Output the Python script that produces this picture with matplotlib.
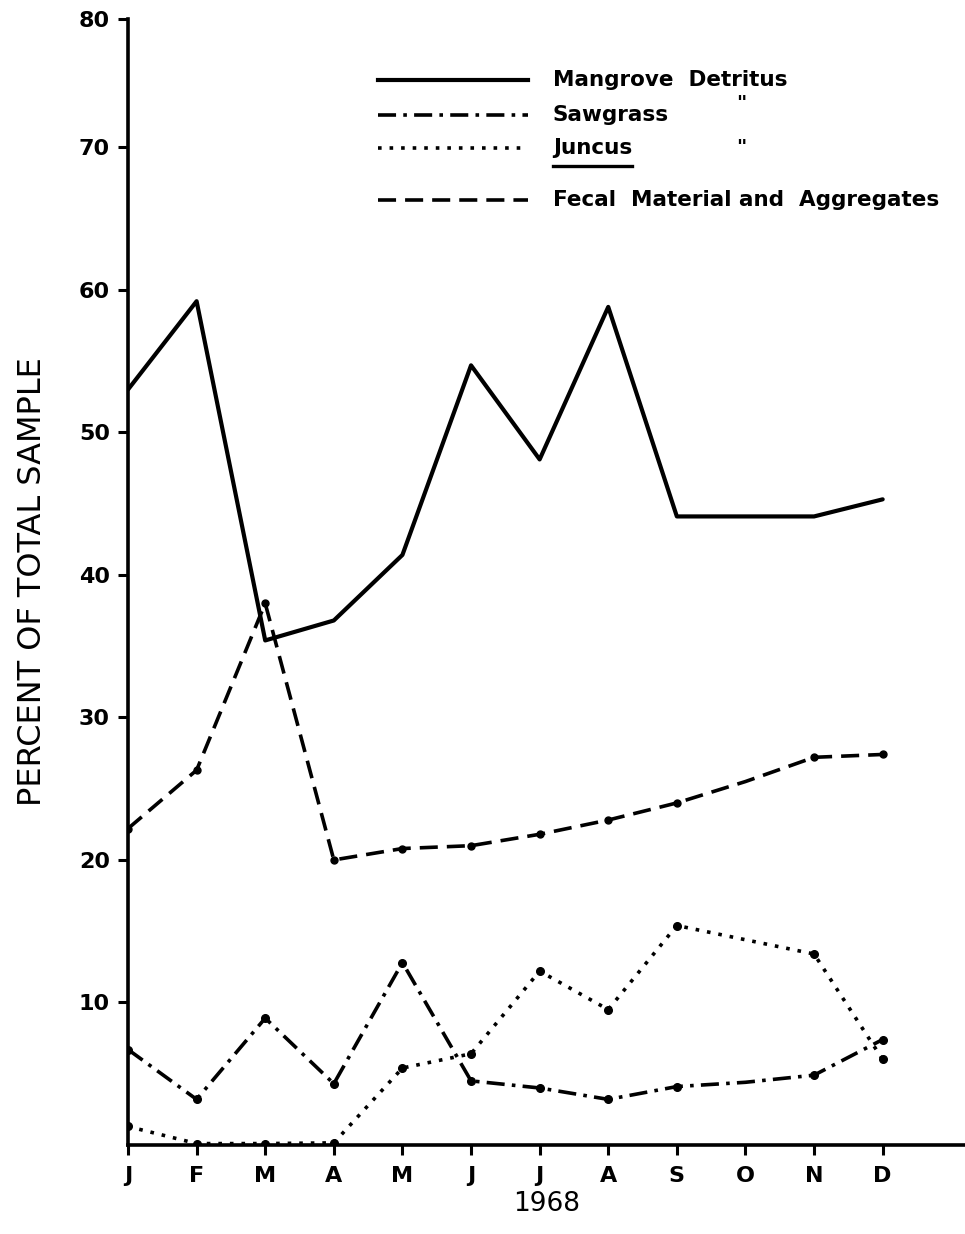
import numpy as np
import matplotlib.pyplot as plt
from matplotlib.lines import Line2D

# monthly composition of samples, 1968 (percent of total sample)
months = ['J', 'F', 'M', 'A', 'M', 'J', 'J', 'A', 'S', 'O', 'N', 'D']
mangrove = [53.0, 59.2, 35.4, 36.8, 41.4, 54.7, 48.1, 58.8, 44.1, 44.1, 44.1, 45.3]
sawgrass = [6.7, 3.2, 8.9, 4.3, 12.8, 4.5, 4.0, 3.2, 4.1, 4.4, 4.9, 7.4]
juncus = [1.3, 0.1, 0.1, 0.15, 5.4, 6.4, 12.2, 9.5, 15.4, 14.4, 13.4, 6.0]
fecal = [22.2, 26.3, 38.0, 20.0, 20.8, 21.0, 21.8, 22.8, 24.0, 25.5, 27.2, 27.4]
ytick_vals = [10, 20, 30, 40, 50, 60, 70, 79]
ytick_labels = ['10', '20', '30', '40', '50', '60', '70', '80']

x = np.arange(len(months))
W, H = 965, 1234
marked = [0, 1, 2, 3, 4, 5, 6, 7, 8, 10, 11]

fig = plt.figure(figsize=(W / 100, H / 100), dpi=100)
ax = fig.add_axes([128 / W, 89 / H, 837 / W, 1126 / H])

lw = 2.6
ax.plot(x, mangrove, color='black', lw=3.0, solid_capstyle='round')
ax.plot(x, sawgrass, color='black', lw=lw, dashes=(5, 2, 1, 2),
        marker='o', ms=5.5, markevery=marked)
ax.plot(x, juncus, color='black', lw=lw, dashes=(1, 2.2),
        marker='o', ms=5.5, markevery=marked)
ax.plot(x, fecal, color='black', lw=lw, dashes=(5, 2.5),
        marker='o', ms=5, markevery=marked)

ax.set_xlim(0, 12.2)
ax.set_ylim(0, 79)
for s in ['top', 'right']:
    ax.spines[s].set_visible(False)
for s in ['left', 'bottom']:
    ax.spines[s].set_linewidth(2.6)

ax.set_xticks(x)
ax.set_xticklabels(months, fontsize=16, fontweight='bold')
ax.set_yticks(ytick_vals)
ax.set_yticklabels(ytick_labels, fontsize=16, fontweight='bold')
ax.tick_params(axis='both', direction='out', length=7, width=2.2, pad=6)
ax.tick_params(axis='x', pad=8)

ax.set_ylabel('PERCENT OF TOTAL SAMPLE', fontsize=23, labelpad=22)
ax.set_xlabel('1968', fontsize=19, labelpad=4)

# hand-drawn style key in the upper right
key = [
    ('Mangrove  Detritus', dict(lw=3.0), 80),
    ('Sawgrass', dict(lw=lw, dashes=(5, 2, 1, 2)), 115),
    ('Juncus', dict(lw=lw, dashes=(1, 2.2)), 148),
    ('Fecal  Material and  Aggregates', dict(lw=lw, dashes=(5, 2.5)), 200),
]
for label, style, ypx in key:
    yf = 1 - ypx / H
    fig.add_artist(Line2D([378 / W, 528 / W], [yf, yf], color='black',
                          transform=fig.transFigure, **style))
    fig.text(553 / W, yf, label, fontsize=15.5, fontweight='bold',
             va='center', ha='left')
fig.add_artist(Line2D([553 / W, 632 / W], [1 - 166 / H, 1 - 166 / H],
                      color='black', lw=2.4, transform=fig.transFigure))
for ypx in (103, 147):
    fig.text(741 / W, 1 - ypx / H, '"', fontsize=14, fontweight='bold',
             va='center', ha='center')

fig.savefig('out.png', dpi=100)
